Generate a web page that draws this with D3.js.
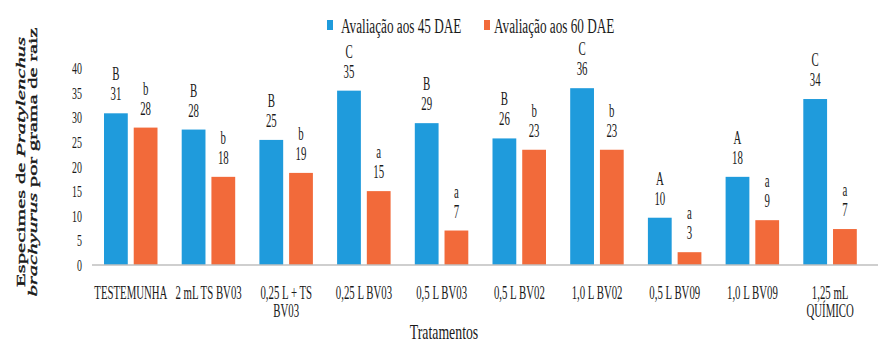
<!DOCTYPE html>
<html>
<head>
<meta charset="utf-8">
<script src="https://cdn.jsdelivr.net/npm/d3@7"></script>
<style>
  body { margin: 0; background: #fff; }
  text { font-family: "Liberation Serif", "Times New Roman", serif; fill: #1a1a1a; }
</style>
</head>
<body>
<div id="chart"></div>
<script>
const categories = ['TESTEMUNHA', '2 mL TS BV03', '0,25 L + TS BV03', '0,25 L BV03', '0,5 L BV03',
    '0,5 L BV02', '1,0 L BV02', '0,5 L BV09', '1,0 L BV09', '1,25 mL QUÍMICO'];
const seriesNames = ['Avaliação aos 45 DAE', 'Avaliação aos 60 DAE'];
const values45 = [30.8, 27.5, 25.4, 35.4, 28.8, 25.7, 35.9, 9.6, 17.9, 33.7];
const values60 = [27.9, 17.9, 18.7, 15.0, 7.0, 23.4, 23.4, 2.6, 9.1, 7.3];
const letters45 = ['B', 'B', 'B', 'C', 'B', 'B', 'C', 'A', 'A', 'C'];
const letters60 = ['b', 'b', 'b', 'a', 'a', 'b', 'b', 'a', 'a', 'a'];
const yTicks = [0, 5, 10, 15, 20, 25, 30, 35, 40];
const colors = ['#1f9bdc', '#f26a3a'];

const width = 883, height = 351;
const margin = { top: 68, right: 5, bottom: 86, left: 92 };
const sx = 0.57; // the original text is squeezed horizontally

const rows = categories.map((c, i) => ({
    cat: c,
    bars: [
        { s: seriesNames[0], v: values45[i], l: letters45[i] },
        { s: seriesNames[1], v: values60[i], l: letters60[i] }
    ]
}));

const svg = d3.select('#chart').append('svg')
    .attr('width', width)
    .attr('height', height);

const x0 = d3.scaleBand()
    .domain(categories)
    .range([margin.left, 869]);
const x1 = d3.scaleBand()
    .domain(seriesNames)
    .range([12, 65.5])
    .paddingInner(0.2);
const y = d3.scaleLinear()
    .domain([0, 40])
    .range([height - margin.bottom, margin.top]);
const color = d3.scaleOrdinal().domain(seriesNames).range(colors);

// y axis, labels only
const yAxisG = svg.append('g')
    .attr('transform', `translate(${margin.left - 4},0)`)
    .call(d3.axisLeft(y).tickValues(yTicks).tickSize(0).tickPadding(6));
yAxisG.select('.domain').remove();
yAxisG.selectAll('text')
    .style('font-size', '16px')
    .attr('x', null).attr('dy', null)
    .attr('transform', 'translate(-6,5.5) scale(0.62,1)');

// bars
const groups = svg.append('g').selectAll('g')
    .data(rows)
    .join('g')
    .attr('transform', d => `translate(${x0(d.cat)},0)`);

groups.selectAll('rect')
    .data(d => d.bars)
    .join('rect')
    .attr('x', d => x1(d.s))
    .attr('y', d => y(d.v))
    .attr('width', x1.bandwidth())
    .attr('height', d => y(0) - y(d.v))
    .attr('fill', d => color(d.s));

// value + letter labels
groups.selectAll('text.val')
    .data(d => d.bars)
    .join('text')
    .attr('class', 'val')
    .attr('text-anchor', 'middle')
    .style('font-size', '19px')
    .attr('transform', d => `translate(${x1(d.s) + x1.bandwidth() / 2},${y(d.v) - 13}) scale(${sx},1)`)
    .text(d => Math.round(d.v));

groups.selectAll('text.let')
    .data(d => d.bars)
    .join('text')
    .attr('class', 'let')
    .attr('text-anchor', 'middle')
    .style('font-size', '19px')
    .attr('transform', d => `translate(${x1(d.s) + x1.bandwidth() / 2},${y(d.v) - 33}) scale(${sx},1)`)
    .text(d => d.l);

// base line
svg.append('line')
    .attr('x1', margin.left).attr('x2', width - margin.right)
    .attr('y1', y(0)).attr('y2', y(0))
    .attr('stroke', '#bfbfbf')
    .attr('stroke-width', 1.5);

// category labels, wrapped to the band
const catText = svg.append('g').selectAll('text')
    .data(categories)
    .join('text')
    .attr('text-anchor', 'middle')
    .style('font-size', '18px')
    .attr('transform', d => `translate(${x0(d) + x0.bandwidth() / 2},299) scale(0.6,1)`);

catText.each(function (d) {
    const el = d3.select(this);
    const words = d.split(' ');
    let lines = [[]];
    const probe = el.append('tspan').attr('x', 0);
    words.forEach(w => {
        const cur = lines[lines.length - 1];
        probe.text(cur.concat(w).join(' '));
        if (cur.length && probe.node().getComputedTextLength() * 0.6 > x0.step() - 2) {
            lines.push([w]);
        } else {
            cur.push(w);
        }
    });
    probe.remove();
    lines.forEach((ln, i) => {
        el.append('tspan')
            .attr('x', 0)
            .attr('dy', i === 0 ? 0 : 18.5)
            .text(ln.join(' '));
    });
});

// x axis title
svg.append('text')
    .attr('text-anchor', 'middle')
    .style('font-size', '20px')
    .attr('transform', `translate(444,339) scale(0.69,1)`)
    .text('Tratamentos');

// y axis title
const yTitle = svg.append('text')
    .attr('text-anchor', 'middle')
    .style('font-size', '13px')
    .style('stroke', '#1a1a1a')
    .style('stroke-width', 0.35)
    .attr('transform', 'translate(24.5,162) rotate(-90) scale(1.75,1)');
const t1 = yTitle.append('tspan').attr('x', 0);
t1.append('tspan').text('Especimes de ');
t1.append('tspan').style('font-style', 'italic').text('Pratylenchus');
const t2 = yTitle.append('tspan').attr('x', 0).attr('dy', 13);
t2.append('tspan').style('font-style', 'italic').text('brachyurus');
t2.append('tspan').text(' por grama de raiz');

// legend
const legendX = [327, 484];
const legend = svg.append('g').selectAll('g')
    .data(seriesNames)
    .join('g')
    .attr('transform', (d, i) => `translate(${legendX[i]},20)`);
legend.append('rect')
    .attr('width', 6).attr('height', 10)
    .attr('fill', d => color(d));
legend.append('text')
    .style('font-size', '20px')
    .attr('transform', (d, i) => `translate(${i === 0 ? 14 : 10},13) scale(0.66,1)`)
    .text(d => d);
</script>
</body>
</html>
